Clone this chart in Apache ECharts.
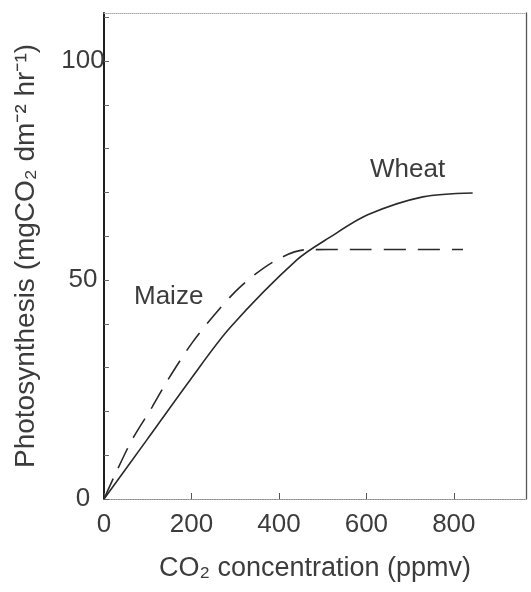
<!DOCTYPE html>
<html lang="en">
<head>
    <meta charset="UTF-8"/>
    <title>Photosynthesis vs CO2</title>
    <style>
        html, body {
            margin: 0;
            padding: 0;
            width: 100vw;
            height: 100vh;
            background: #ffffff;
            overflow: hidden;
        }

        #chart {
            width: 531px;
            height: 592px;
        }
    </style>
</head>
<body>
<div id="chart"></div>
<script src="https://cdn.jsdelivr.net/npm/echarts@6/dist/echarts.min.js"></script>
<script>
    // values
    const wheatX = [0, 98, 197, 288, 441, 517, 603, 729, 843];
    const wheatY = [0, 13.5, 27.2, 39.1, 54.6, 59.8, 64.9, 69, 69.9];
    const maizeX = [0, 25, 64, 110, 146, 201, 258, 311, 386, 459, 562, 821];
    const maizeY = [0, 5.5, 13.5, 21, 27.2, 35.6, 42.7, 48.4, 54.1, 56.9, 57, 57];
    const xTickLabels = [0, 200, 400, 600, 800];
    const yTickLabels = [0, 50, 100];

    const font = '"Liberation Sans", Arial, sans-serif';
    const textColor = '#3c3c3c';

    const chart = echarts.init(document.getElementById('chart'));

    function pairs(xs, ys) {
        return xs.map((x, i) => [x, ys[i]]);
    }

    const option = {
        backgroundColor: '#ffffff',
        animation: false,
        grid: {left: 104, right: 5, top: 13, bottom: 93, show: false},
        xAxis: [
            {
                type: 'value',
                min: 0,
                max: 965,
                interval: 200,
                name: 'CO\u2082 concentration (ppmv)',
                nameLocation: 'middle',
                nameGap: 56,
                nameTextStyle: {fontFamily: font, fontSize: 27, color: textColor},
                axisLine: {show: true, onZero: false, lineStyle: {color: '#8a8a8a', width: 1.2, type: 'dotted'}},
                axisTick: {show: true, inside: true, length: 6, lineStyle: {color: '#555'}},
                axisLabel: {
                    show: true,
                    margin: 13,
                    fontFamily: font,
                    fontSize: 26,
                    color: textColor,
                    showMaxLabel: false,
                    formatter: v => xTickLabels.includes(v) ? String(v) : ''
                },
                splitLine: {show: false}
            },
            {
                type: 'value',
                position: 'top',
                min: 0,
                max: 965,
                axisLine: {show: true, onZero: false, lineStyle: {color: '#aaaaaa', width: 1, type: 'dotted'}},
                axisTick: {show: false},
                axisLabel: {show: false},
                splitLine: {show: false}
            }
        ],
        yAxis: [
            {
                type: 'value',
                min: 0,
                max: 111,
                interval: 10,
                name: 'Photosynthesis (mgCO\u2082 dm\u207B\u00B2 hr\u207B\u00B9)',
                nameLocation: 'middle',
                nameGap: 64,
                nameTextStyle: {fontFamily: font, fontSize: 28, color: textColor},
                axisLine: {show: true, onZero: false, lineStyle: {color: '#1e1e1e', width: 2}},
                axisTick: {show: true, inside: true, length: 5, lineStyle: {color: '#666'}},
                axisLabel: {
                    show: true,
                    align: 'center',
                    margin: 21,
                    fontFamily: font,
                    fontSize: 26,
                    color: textColor,
                    showMaxLabel: false,
                    formatter: v => yTickLabels.includes(v) ? String(v) : ''
                },
                splitLine: {show: false}
            },
            {
                type: 'value',
                position: 'right',
                min: 0,
                max: 111,
                axisLine: {show: true, onZero: false, lineStyle: {color: '#555555', width: 1.3}},
                axisTick: {show: false},
                axisLabel: {show: false},
                splitLine: {show: false}
            }
        ],
        series: [
            {
                name: 'Wheat',
                type: 'line',
                smooth: 0.3,
                showSymbol: false,
                lineStyle: {color: '#2a2a2a', width: 1.6},
                data: pairs(wheatX, wheatY)
            },
            {
                name: 'Maize',
                type: 'line',
                smooth: 0.3,
                showSymbol: false,
                lineStyle: {color: '#2a2a2a', width: 1.6, type: [22, 12]},
                data: pairs(maizeX, maizeY)
            }
        ],
        graphic: [
            {
                type: 'text',
                x: 134,
                y: 297,
                style: {text: 'Maize', fontFamily: font, fontSize: 26, fill: textColor, verticalAlign: 'middle'}
            },
            {
                type: 'text',
                x: 370,
                y: 170,
                style: {text: 'Wheat', fontFamily: font, fontSize: 26, fill: textColor, verticalAlign: 'middle'}
            }
        ]
    };

    chart.setOption(option);

    window.addEventListener('resize', () => {
        chart.resize();
    });
</script>
</body>
</html>
